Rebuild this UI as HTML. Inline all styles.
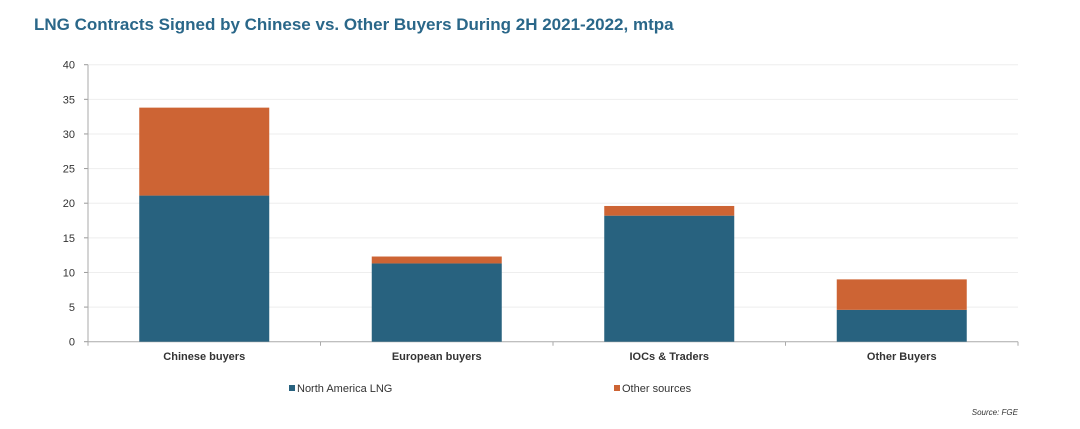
<!DOCTYPE html>
<html><head><meta charset="utf-8"><style>
body{margin:0;background:#fff;font-family:"Liberation Sans",sans-serif}
</style></head><body>
<svg id="c" width="1080" height="424" xmlns="http://www.w3.org/2000/svg">
<text x="34" y="30" font-size="17" font-weight="bold" fill="#2a6789">LNG Contracts Signed by Chinese vs. Other Buyers During 2H 2021-2022, mtpa</text>
<g id="g"></g>
<text x="1018" y="415" font-size="8" font-style="italic" fill="#333" text-anchor="end">Source: FGE</text>
</svg>
<script>
const categories=["Chinese buyers","European buyers","IOCs & Traders","Other Buyers"];
const northAmerica=[21.1,11.3,18.2,4.6];
const otherSources=[12.7,1.0,1.4,4.4];
const yTicks=[0,5,10,15,20,25,30,35,40];
const ns="http://www.w3.org/2000/svg",g=document.getElementById('g');
const X0=88,X1=1018,Y0=341.7,Y1=64.7,YMAX=40;
const y=v=>Y0-(v/YMAX)*(Y0-Y1);
const cw=(X1-X0)/categories.length;
const xc=i=>X0+cw*(i+0.5);
function mk(t,a){const e=document.createElementNS(ns,t);for(const k in a)e.setAttribute(k,a[k]);g.appendChild(e);return e;}
yTicks.forEach(t=>{
 if(t>0){const l=mk('line',{x1:X0,x2:X1,y1:y(t),y2:y(t),stroke:'#eeeeee'});
 
 }
 const tk=mk('line',{x1:X0-4,x2:X0,y1:y(t),y2:y(t),stroke:'#999'});
 
 
 const tx=mk('text',{x:X0-13,y:y(t)+4,'font-size':11,fill:'#333','text-anchor':'end'});tx.textContent=t;
 
 
});
const ax=mk('line',{x1:X0,x2:X0,y1:Y1,y2:Y0,stroke:'#aaa'});


const bx=mk('line',{x1:X0,x2:X1,y1:Y0,y2:Y0,stroke:'#aaa'});


for(let i=0;i<=categories.length;i++){const t=mk('line',{x1:X0+cw*i,x2:X0+cw*i,y1:Y0,y2:Y0+4,stroke:'#aaa'});
 
 }
const bw=130;
categories.forEach((c,i)=>{
 const a=mk('rect',{x:xc(i)-bw/2,y:y(northAmerica[i]),width:bw,height:Y0-y(northAmerica[i]),fill:'#28627f'});
 
 
 const tot=northAmerica[i]+otherSources[i];
 const b=mk('rect',{x:xc(i)-bw/2,y:y(tot),width:bw,height:y(northAmerica[i])-y(tot),fill:'#cd6434'});
 
 
 const t=mk('text',{x:xc(i),y:360,'font-size':11,'font-weight':'bold',fill:'#333','text-anchor':'middle'});t.textContent=c;
 
 
});
[["North America LNG","#28627f",289],["Other sources","#cd6434",614]].forEach(([n,col,x])=>{
 const r=mk('rect',{x:x,y:385,width:6,height:6,fill:col});
 
 
 const t=mk('text',{x:x+8,y:392,'font-size':11,fill:'#333'});t.textContent=n;
 
 
});
</script>
</body></html>
